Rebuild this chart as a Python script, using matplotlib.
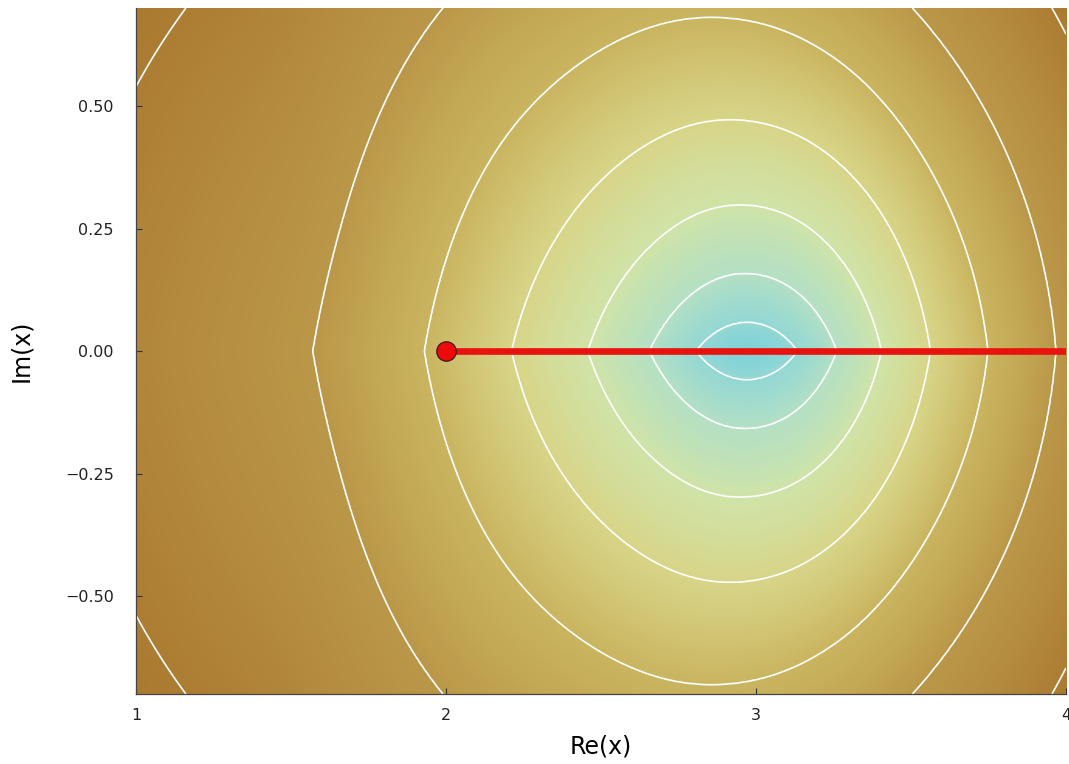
import matplotlib
matplotlib.use("Agg")
import matplotlib.pyplot as plt
import numpy as np
from matplotlib.colors import LinearSegmentedColormap

# real-axis crossings of the contour lines (left side .. minimum .. right side)
warp_x = [0.4, 0.9, 1.075, 1.25, 1.59, 1.93, 2.21, 2.46, 2.66, 2.81, 2.97,
          3.14, 3.26, 3.41, 3.56, 3.75, 3.97, 4.25, 4.8]
warp_u = [-1.80, -1.55, -1.46, -1.37, -1.2, -0.91, -0.675, -0.475, -0.305, -0.165, 0.0,
          0.165, 0.305, 0.475, 0.675, 0.91, 1.2, 1.6, 2.4]
# surface value of each white contour
level_f = [0.0, 0.0272, 0.093, 0.2256, 0.4556, 0.828, 1.44, 2.7, 4.0]
level_t = [0, 1, 2, 3, 4, 5, 6, 7, 8.03]
# colours read along the scale (index 0 = minimum)
cmap_pos = [0.0, 1, 2, 3, 4, 5, 6, 7, 8.03]
cmap_col = ["#7ed2d8", "#94d8d4", "#b4e0c4", "#d0e4a8", "#d8d588", "#cab560",
            "#bb9849", "#ad7d34", "#a26c27"]

# optimisation path in the complex plane
path_re = [2.0, 4.0]
path_im = [0.0, 0.0]

# smooth warp of the real axis
g = np.linspace(0.4, 4.8, 4401)
kern = np.exp(-0.5 * (np.arange(-300, 301) / 90.0) ** 2)
phi = np.convolve(np.interp(g, warp_x, warp_u), kern / kern.sum(), mode="same")

xs = np.linspace(1, 4, 601)
ys = np.linspace(-0.7, 0.7, 401)
X, Y = np.meshgrid(xs, ys)
U = np.interp(X + 0.25 * Y**2, g, phi)
F = U**2 + 0.4 * np.abs(Y) + 1.2 * Y**2
T = np.interp(F, level_f, level_t)

cm = LinearSegmentedColormap.from_list(
    "land", list(zip(np.array(cmap_pos) / cmap_pos[-1], cmap_col)))

fig = plt.figure(figsize=(10.69, 7.64), dpi=100)
ax = fig.add_axes([0.1272, 0.0916, 0.87, 0.8979])
ax.imshow(T, extent=[1, 4, -0.7, 0.7], origin="lower", aspect="auto",
          cmap=cm, vmin=0, vmax=cmap_pos[-1], interpolation="bilinear")
ax.contour(X, Y, T, levels=level_t[1:8], colors="white", linewidths=1.2)
ax.plot(path_re, path_im, color="#e8130e", lw=4.8, solid_capstyle="butt", zorder=3)
ax.plot(path_re[0], path_im[0], "o", ms=14, mfc="#ee0a0a", mec="#3a1a1a",
        mew=0.9, zorder=4)

ax.set_xlim(1, 4)
ax.set_ylim(-0.7, 0.7)
ax.set_xticks([1, 2, 3, 4])
ax.set_yticks([-0.5, -0.25, 0, 0.25, 0.5])
ax.set_yticklabels(["\u22120.50", "\u22120.25", "0.00", "0.25", "0.50"])
ax.tick_params(direction="in", length=4, width=0.8, colors="#333333",
               labelsize=11.5, labelcolor="#222222")
ax.tick_params(axis="y", pad=16)
ax.tick_params(axis="x", pad=10)
for s in ["top", "right"]:
    ax.spines[s].set_visible(False)
for s in ["left", "bottom"]:
    ax.spines[s].set_color("#444444")
    ax.spines[s].set_linewidth(0.9)
ax.set_xlabel("Re(x)", fontsize=17, labelpad=8)
ax.set_ylabel("Im(x)", fontsize=17, labelpad=23)

fig.savefig("out.png", dpi=100)
